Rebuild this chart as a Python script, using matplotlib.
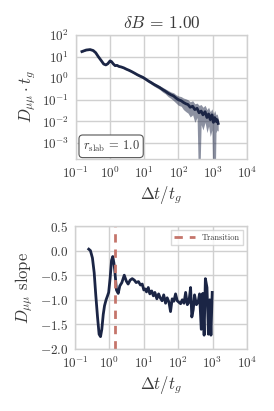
import numpy as np
import matplotlib
matplotlib.use("Agg")
import matplotlib.pyplot as plt

# Diffusion coefficient vs time lag
dt = [0.15, 0.2, 0.26, 0.32, 0.38, 0.45, 0.55, 0.65, 0.75, 0.85,
      1.0, 1.1, 1.25, 1.4, 1.6, 1.8, 2.1, 2.5, 3.0, 3.6,
      4.3, 5.2, 6.2, 7.5, 9.0, 11, 13, 16, 19, 23,
      28, 34, 41, 50, 60, 72, 85, 100, 120, 140,
      165, 190, 220, 260, 300, 350, 400, 460, 520, 600,
      680, 760, 850, 950, 1050, 1150, 1250, 1350, 1450]
dmm = [17, 20, 21, 19, 15, 10, 6.5, 4.5, 4.1, 4.6,
       6.3, 5.8, 4.5, 3.8, 3.9, 3.5, 3.3, 3.0, 2.6, 2.3,
       2.0, 1.7, 1.45, 1.25, 1.1, 0.9, 0.75, 0.62, 0.52, 0.44,
       0.37, 0.30, 0.25, 0.20, 0.17, 0.15, 0.12, 0.10, 0.09, 0.075,
       0.065, 0.06, 0.045, 0.05, 0.035, 0.04, 0.025, 0.03, 0.02, 0.028,
       0.015, 0.022, 0.012, 0.02, 0.009, 0.015, 0.01, 0.012, 0.008]
dmm_lo = [16, 19, 20, 18, 14, 9.5, 6.2, 4.3, 3.9, 4.4,
          6.0, 5.5, 4.3, 3.6, 3.7, 3.3, 3.1, 2.8, 2.4, 2.1,
          1.85, 1.55, 1.3, 1.1, 0.95, 0.78, 0.64, 0.52, 0.43, 0.36,
          0.30, 0.23, 0.19, 0.14, 0.115, 0.09, 0.07, 0.055, 0.05, 0.035,
          0.028, 0.024, 0.016, 0.02, 0.009, 0.015, 1e-6, 0.007, 0.004, 0.009,
          0.003, 0.006, 0.002, 0.004, 1e-6, 1e-6, 0.003, 0.004, 0.0035]
dmm_hi = [18, 21, 22, 20, 16, 10.5, 6.8, 4.7, 4.3, 4.8,
          6.6, 6.1, 4.7, 4.0, 4.1, 3.7, 3.5, 3.2, 2.8, 2.5,
          2.15, 1.85, 1.6, 1.4, 1.25, 1.02, 0.86, 0.72, 0.61, 0.53,
          0.45, 0.38, 0.32, 0.27, 0.23, 0.21, 0.17, 0.15, 0.14, 0.12,
          0.11, 0.10, 0.08, 0.09, 0.065, 0.07, 0.055, 0.06, 0.045, 0.055,
          0.035, 0.045, 0.028, 0.038, 0.022, 0.032, 0.02, 0.022, 0.014]

# local slope of D_mumu
dt_s = [0.25, 0.28, 0.32, 0.36, 0.4, 0.45, 0.5, 0.55, 0.6, 0.66,
        0.72, 0.8, 0.88, 0.95, 1.05, 1.15, 1.25, 1.35, 1.45, 1.6,
        1.8, 2.0, 2.3, 2.7, 3.1, 3.5, 4.0, 4.6, 5.3, 6.0,
        7.0, 8.0, 9.0, 10, 11, 12, 13.5, 15, 17, 19,
        21, 24, 27, 30, 34, 38, 43, 48, 54, 60,
        67, 75, 84, 94, 105, 118, 132, 148, 165, 185,
        205, 230, 250, 275, 300, 340, 380, 420, 470, 520,
        570, 620, 690, 760, 830, 900, 980]
slope = [0.03, 0.0, -0.15, -0.45, -0.9, -1.35, -1.7, -1.75, -1.6, -1.3,
         -1.12, -1.0, -0.92, -0.85, -0.55, -0.2, -0.12, -0.25, -0.45, -0.8,
         -0.87, -0.72, -0.65, -0.5, -0.62, -0.68, -0.6, -0.57, -0.6, -0.65,
         -0.63, -0.7, -0.68, -0.8, -0.78, -0.84, -0.75, -0.88, -0.82, -0.92,
         -0.85, -0.98, -0.88, -0.96, -1.02, -0.9, -1.07, -0.96, -1.05, -1.24,
         -0.98, -1.03, -0.88, -1.02, -1.05, -1.08, -1.0, -1.07, -0.85, -1.1,
         -1.05, -0.75, -1.35, -1.2, -0.9, -1.1, -1.05, -0.88, -1.6, -0.87,
         -1.72, -0.57, -0.75, -1.7, -1.0, -1.72, -0.85]

t_transition = 1.5

plt.rcParams['font.family'] = ['cmr10', 'DejaVu Serif']
plt.rcParams['mathtext.fontset'] = 'cm'
plt.rcParams['axes.formatter.use_mathtext'] = True
plt.rcParams['axes.unicode_minus'] = True

navy = '#1b2545'
gridc = '#d0d0d0'
txtc = '#3a3a3a'

fig = plt.figure(figsize=(2.74, 4.11), dpi=100)
ax1 = fig.add_axes([0.277, 0.613, 0.624, 0.302])
ax2 = fig.add_axes([0.274, 0.151, 0.627, 0.299])

for ax in (ax1, ax2):
    ax.set_facecolor('white')
    ax.grid(True, color=gridc, lw=1.0)
    ax.set_axisbelow(True)
    for s in ax.spines.values():
        s.set_color(gridc)
        s.set_linewidth(1.0)
    ax.tick_params(colors=txtc, labelsize=9.5, length=0, pad=5)
    ax.set_xscale('log')
    ax.set_xlim(0.1, 1e4)
    ax.set_xticks([1e-1, 1e0, 1e1, 1e2, 1e3, 1e4])
    ax.minorticks_off()
    ax.set_xlabel(r'$\Delta t/t_g$', fontsize=12, color=txtc, labelpad=2)

ax1.fill_between(dt, dmm_lo, dmm_hi, color=navy, alpha=0.5, lw=0)
ax1.plot(dt, dmm, color=navy, lw=2)
ax1.set_yscale('log')
ax1.set_ylim(1.8e-4, 100)
ax1.set_yticks([1e-3, 1e-2, 1e-1, 1e0, 1e1, 1e2])
ax1.minorticks_off()
ax1.set_ylabel(r'$D_{\mu\mu}\cdot t_g$', fontsize=12, color=txtc, labelpad=3)
ax1.set_title(r'$\delta B \,=\, 1.00$', fontsize=12.5, color=txtc, pad=5)
ax1.text(0.04, 0.075, r'$r_{\rm slab} \,=\, 1.0$', transform=ax1.transAxes,
         fontsize=9, color=txtc,
         bbox=dict(boxstyle='round,pad=0.3', fc='white', ec='#555555', lw=0.8))

ax2.plot(dt_s, slope, color=navy, lw=2)
ax2.axvline(t_transition, color='#c5756b', ls='--', lw=2, dashes=(3, 2.5),
            label='Transition')
ax2.set_ylim(-2.0, 0.5)
ax2.set_yticks([-2.0, -1.5, -1.0, -0.5, 0.0, 0.5])
ax2.set_yticklabels(['$-2.0$', '$-1.5$', '$-1.0$', '$-0.5$', '$0.0$', '$0.5$'])
ax2.set_ylabel(r'$D_{\mu\mu}$ slope', fontsize=12, color=txtc, labelpad=3)
leg = ax2.legend(loc='upper right', fontsize=6, frameon=True, fancybox=False,
                 edgecolor=gridc, handlelength=2.5, borderpad=0.4)
for t in leg.get_texts():
    t.set_color(txtc)

fig.savefig('out.png', dpi=100)
